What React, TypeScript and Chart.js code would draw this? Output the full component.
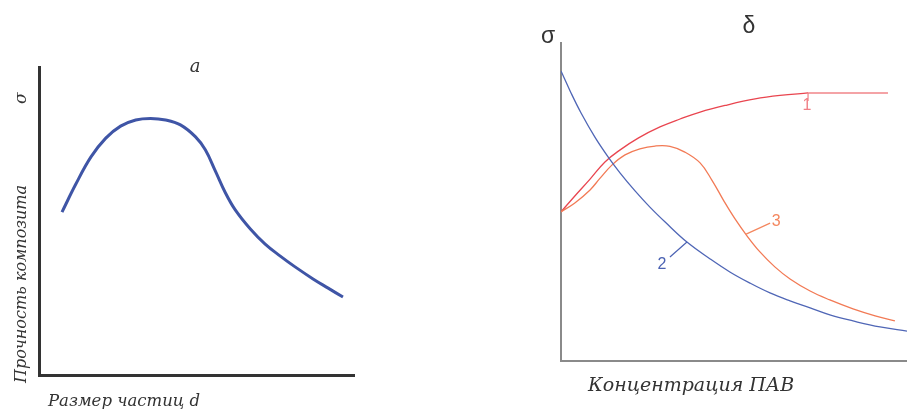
import React, { useEffect, useRef } from "react";
import { Chart, registerables } from "chart.js";

Chart.register(...registerables);

// ---- Panel a: composite strength vs particle size ----
const sizeX = [0.73, 1.17, 1.65, 2.12, 2.59, 3.07, 3.54, 4.02, 4.49, 4.97, 5.28, 5.6, 5.92, 6.23, 6.71, 7.18, 7.66, 8.13, 8.7, 9.18, 9.65];
const strengthY = [5.29, 6.2, 7.08, 7.69, 8.08, 8.28, 8.33, 8.28, 8.12, 7.73, 7.31, 6.62, 5.91, 5.36, 4.74, 4.25, 3.86, 3.51, 3.12, 2.82, 2.53];

// ---- Panel б: strength vs surfactant concentration ----
const curve1X = [0, 0.4, 0.84, 1.27, 1.71, 2.23, 2.86, 3.44, 4.02, 4.8, 5.61, 6.33, 7.14];
const curve1Y = [4.69, 5.19, 5.72, 6.26, 6.64, 7.01, 7.36, 7.61, 7.83, 8.05, 8.24, 8.35, 8.43];
const curve1FlatX = [7.14, 9.45];
const curve1FlatY = [8.43, 8.43];

const curve2X = [0, 0.29, 0.58, 0.98, 1.36, 1.71, 2.14, 2.57, 3.01, 3.64, 4.31, 4.88, 5.46, 6.04, 6.62, 7.2, 7.77, 8.44, 9.22, 10];
const curve2Y = [9.12, 8.43, 7.8, 7.04, 6.42, 5.91, 5.35, 4.84, 4.37, 3.74, 3.21, 2.8, 2.45, 2.14, 1.89, 1.67, 1.45, 1.26, 1.07, 0.94];

const curve3X = [0, 0.4, 0.84, 1.13, 1.47, 1.85, 2.28, 2.72, 3.15, 3.58, 4.02, 4.36, 4.71, 5.03, 5.38, 5.75, 6.18, 6.62, 7.2, 7.77, 8.44, 9.08, 9.65];
const curve3Y = [4.69, 4.97, 5.38, 5.75, 6.16, 6.48, 6.67, 6.76, 6.75, 6.57, 6.23, 5.69, 5.03, 4.47, 3.93, 3.43, 2.96, 2.58, 2.2, 1.92, 1.64, 1.42, 1.26];

const curveLabels = ["1", "2", "3"];
const labelAnchorX = [7.14, 3.64, 5.35];
const labelAnchorY = [8.43, 3.74, 3.99];

const textLeftTitle = "a";
const textLeftY = "Прочность композита";
const textLeftSigma = "σ";
const textLeftX = "Размер частиц d";
const textRightTitle = "δ";
const textRightSigma = "σ";
const textRightX = "Концентрация ПАВ";

const pts = (xs: number[], ys: number[]) => xs.map((x, i) => ({ x, y: ys[i] }));

const hiddenScale = (color: string, width: number) => ({
  type: "linear" as const,
  min: 0,
  max: 10,
  ticks: { display: false },
  grid: { display: false, drawTicks: false },
  border: { display: true, color, width },
});

const serifItalic = (px: number) => `italic ${px}px "DejaVu Serif"`;

const leftTextPlugin = {
  id: "leftText",
  afterDraw(chart: any) {
    const ctx = chart.ctx;
    ctx.save();
    ctx.fillStyle = "#333333";
    ctx.font = serifItalic(18);
    ctx.textAlign = "center";
    ctx.textBaseline = "alphabetic";
    ctx.fillText(textLeftTitle, 195, 72);

    ctx.font = serifItalic(16.5);
    ctx.textAlign = "left";
    ctx.fillText(textLeftX, 48, 406);

    ctx.font = serifItalic(16);
    ctx.save();
    ctx.translate(26, 383);
    ctx.rotate(-Math.PI / 2);
    ctx.fillText(textLeftY, 0, 0);
    ctx.restore();

    ctx.font = serifItalic(17);
    ctx.save();
    ctx.translate(26, 104);
    ctx.rotate(-Math.PI / 2);
    ctx.fillText(textLeftSigma, 0, 0);
    ctx.restore();
    ctx.restore();
  },
};

const rightTextPlugin = {
  id: "rightText",
  afterDraw(chart: any) {
    const ctx = chart.ctx;
    const xs = chart.scales.x;
    const ys = chart.scales.y;
    ctx.save();
    ctx.fillStyle = "#333333";
    ctx.font = '23px "Liberation Sans"';
    ctx.textAlign = "left";
    ctx.textBaseline = "alphabetic";
    ctx.fillText(textRightSigma, 541 - 454, 43);
    ctx.textAlign = "center";
    ctx.fillText(textRightTitle, 749 - 454, 33);

    ctx.font = serifItalic(19);
    ctx.textAlign = "left";
    ctx.fillText(textRightX, 588 - 454, 391);

    // curve labels with leader lines
    const colors = ["#f07f86", "#4b62b3", "#f4875f"];
    const dx = [0, -17, 24];
    const dy = [8, 15, -11];
    const tx = [-1, -25, 30];
    const ty = [17, 27, -8];
    ctx.font = '16px "Liberation Sans"';
    ctx.lineWidth = 1.2;
    for (let i = 0; i < curveLabels.length; i++) {
      const px = xs.getPixelForValue(labelAnchorX[i]);
      const py = ys.getPixelForValue(labelAnchorY[i]);
      ctx.strokeStyle = colors[i];
      ctx.fillStyle = colors[i];
      ctx.beginPath();
      ctx.moveTo(px, py);
      ctx.lineTo(px + dx[i], py + dy[i]);
      ctx.stroke();
      ctx.textAlign = "center";
      ctx.fillText(curveLabels[i], px + tx[i], py + ty[i]);
    }
    ctx.restore();
  },
};

export default function App() {
  const leftRef = useRef<HTMLCanvasElement>(null);
  const rightRef = useRef<HTMLCanvasElement>(null);

  useEffect(() => {
    const left = new Chart(leftRef.current as HTMLCanvasElement, {
      type: "line",
      data: {
        datasets: [
          {
            data: pts(sizeX, strengthY),
            borderColor: "#3f55a6",
            borderWidth: 3,
            pointRadius: 0,
            tension: 0.4,
            fill: false,
          } as any,
        ],
      },
      options: {
        responsive: false,
        animation: false,
        layout: { padding: { left: 39, right: 454 - 354, top: 67, bottom: 409 - 375 } },
        plugins: { legend: { display: false }, tooltip: { enabled: false } },
        scales: { x: hiddenScale("#333333", 3), y: hiddenScale("#333333", 3) } as any,
      },
      plugins: [leftTextPlugin],
    });

    const right = new Chart(rightRef.current as HTMLCanvasElement, {
      type: "line",
      data: {
        datasets: [
          {
            data: pts(curve2X, curve2Y),
            borderColor: "#4f66b6",
            borderWidth: 1.3,
            pointRadius: 0,
            tension: 0.4,
          } as any,
          {
            data: pts(curve3X, curve3Y),
            borderColor: "#f27a55",
            borderWidth: 1.3,
            pointRadius: 0,
            tension: 0.4,
          } as any,
          {
            data: pts(curve1X, curve1Y),
            borderColor: "#e9454f",
            borderWidth: 1.3,
            pointRadius: 0,
            tension: 0.4,
          } as any,
          {
            data: pts(curve1FlatX, curve1FlatY),
            borderColor: "#f4a3a6",
            borderWidth: 2,
            pointRadius: 0,
          } as any,
        ],
      },
      options: {
        responsive: false,
        animation: false,
        layout: { padding: { left: 561 - 454, right: 0, top: 43, bottom: 409 - 361 } },
        plugins: { legend: { display: false }, tooltip: { enabled: false } },
        scales: { x: hiddenScale("#8a8a8a", 2), y: hiddenScale("#8a8a8a", 2) } as any,
      },
      plugins: [rightTextPlugin],
    });

    return () => {
      left.destroy();
      right.destroy();
    };
  }, []);

  return (
    <div style={{ position: "absolute", left: 0, top: 0, width: 907, height: 409, background: "#fff" }}>
      <canvas ref={leftRef} width={454} height={409} style={{ position: "absolute", left: 0, top: 0 }} />
      <canvas ref={rightRef} width={453} height={409} style={{ position: "absolute", left: 454, top: 0 }} />
    </div>
  );
}
